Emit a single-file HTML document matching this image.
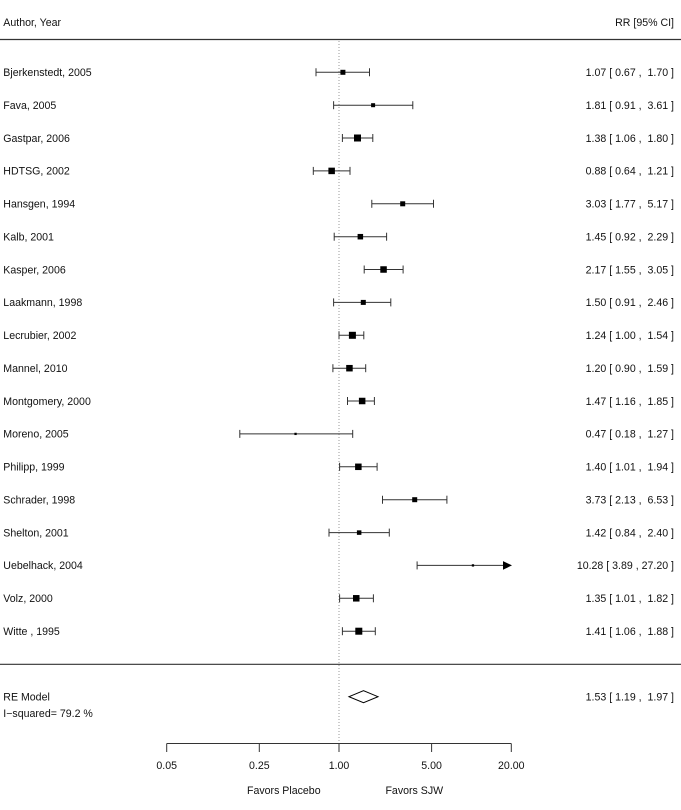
<!DOCTYPE html>
<html>
<head>
<meta charset="utf-8">
<style>
  html,body{margin:0;padding:0;background:#fff;}
  svg{display:block;}
  text{font-family:"Liberation Sans", Arial, Helvetica, sans-serif;font-size:10.6px;fill:#111;white-space:pre;}
</style>
</head>
<body>
<svg width="681" height="810" viewBox="0 0 681 810" xmlns="http://www.w3.org/2000/svg">
  <rect x="0" y="0" width="681" height="810" fill="#fff"/>

  <!-- header -->
  <text x="3.3" y="25.8">Author, Year</text>
  <text x="674" y="25.8" text-anchor="end">RR [95% CI]</text>
  <line x1="0" y1="39.5" x2="681" y2="39.5" stroke="#333" stroke-width="1.2"/>

  <!-- reference dotted line -->
  <line x1="339" y1="41" x2="339" y2="743" stroke="#999" stroke-width="1" stroke-dasharray="1,2"/>

  <!-- study rows -->
  <g stroke="#333" stroke-width="1" fill="#000">
    <!-- Bjerkenstedt 1.07 [0.67,1.70] y=72.3 -->
    <line x1="316.0" y1="72.3" x2="369.5" y2="72.3"/>
    <line x1="316.0" y1="68.3" x2="316.0" y2="76.3"/>
    <line x1="369.5" y1="68.3" x2="369.5" y2="76.3"/>
    <rect x="340.4" y="69.8" width="5" height="5" stroke="none"/>

    <!-- Fava 1.81 [0.91,3.61] y=105.2 -->
    <line x1="333.6" y1="105.2" x2="412.8" y2="105.2"/>
    <line x1="333.6" y1="101.2" x2="333.6" y2="109.2"/>
    <line x1="412.8" y1="101.2" x2="412.8" y2="109.2"/>
    <rect x="371.1" y="103.2" width="4" height="4" stroke="none"/>

    <!-- Gastpar 1.38 [1.06,1.80] y=138.0 -->
    <line x1="342.4" y1="138.0" x2="372.8" y2="138.0"/>
    <line x1="342.4" y1="134.0" x2="342.4" y2="142.0"/>
    <line x1="372.8" y1="134.0" x2="372.8" y2="142.0"/>
    <rect x="354.0" y="134.5" width="7" height="7" stroke="none"/>

    <!-- HDTSG 0.88 [0.64,1.21] y=170.9 -->
    <line x1="313.3" y1="170.9" x2="350.0" y2="170.9"/>
    <line x1="313.3" y1="166.9" x2="313.3" y2="174.9"/>
    <line x1="350.0" y1="166.9" x2="350.0" y2="174.9"/>
    <rect x="328.4" y="167.65" width="6.5" height="6.5" stroke="none"/>

    <!-- Hansgen 3.03 [1.77,5.17] y=203.8 -->
    <line x1="371.8" y1="203.8" x2="433.5" y2="203.8"/>
    <line x1="371.8" y1="199.8" x2="371.8" y2="207.8"/>
    <line x1="433.5" y1="199.8" x2="433.5" y2="207.8"/>
    <rect x="400.2" y="201.3" width="5" height="5" stroke="none"/>

    <!-- Kalb 1.45 [0.92,2.29] y=236.7 -->
    <line x1="334.2" y1="236.7" x2="386.6" y2="236.7"/>
    <line x1="334.2" y1="232.7" x2="334.2" y2="240.7"/>
    <line x1="386.6" y1="232.7" x2="386.6" y2="240.7"/>
    <rect x="357.6" y="233.95" width="5.5" height="5.5" stroke="none"/>

    <!-- Kasper 2.17 [1.55,3.05] y=269.5 -->
    <line x1="364.2" y1="269.5" x2="403.1" y2="269.5"/>
    <line x1="364.2" y1="265.5" x2="364.2" y2="273.5"/>
    <line x1="403.1" y1="265.5" x2="403.1" y2="273.5"/>
    <rect x="380.3" y="266.25" width="6.5" height="6.5" stroke="none"/>

    <!-- Laakmann 1.50 [0.91,2.46] y=302.4 -->
    <line x1="333.6" y1="302.4" x2="390.8" y2="302.4"/>
    <line x1="333.6" y1="298.4" x2="333.6" y2="306.4"/>
    <line x1="390.8" y1="298.4" x2="390.8" y2="306.4"/>
    <rect x="360.8" y="299.9" width="5" height="5" stroke="none"/>

    <!-- Lecrubier 1.24 [1.00,1.54] y=335.3 -->
    <line x1="339.0" y1="335.3" x2="363.8" y2="335.3"/>
    <line x1="339.0" y1="331.3" x2="339.0" y2="339.3"/>
    <line x1="363.8" y1="331.3" x2="363.8" y2="339.3"/>
    <rect x="348.9" y="331.8" width="7" height="7" stroke="none"/>

    <!-- Mannel 1.20 [0.90,1.59] y=368.2 -->
    <line x1="332.9" y1="368.2" x2="365.7" y2="368.2"/>
    <line x1="332.9" y1="364.2" x2="332.9" y2="372.2"/>
    <line x1="365.7" y1="364.2" x2="365.7" y2="372.2"/>
    <rect x="346.2" y="364.95" width="6.5" height="6.5" stroke="none"/>

    <!-- Montgomery 1.47 [1.16,1.85] y=401.0 -->
    <line x1="347.5" y1="401.0" x2="374.4" y2="401.0"/>
    <line x1="347.5" y1="397.0" x2="347.5" y2="405.0"/>
    <line x1="374.4" y1="397.0" x2="374.4" y2="405.0"/>
    <rect x="358.9" y="397.75" width="6.5" height="6.5" stroke="none"/>

    <!-- Moreno 0.47 [0.18,1.27] y=433.9 -->
    <line x1="239.8" y1="433.9" x2="352.7" y2="433.9"/>
    <line x1="239.8" y1="429.9" x2="239.8" y2="437.9"/>
    <line x1="352.7" y1="429.9" x2="352.7" y2="437.9"/>
    <rect x="294.4" y="432.75" width="2.3" height="2.3" stroke="none"/>

    <!-- Philipp 1.40 [1.01,1.94] y=466.8 -->
    <line x1="339.6" y1="466.8" x2="377.1" y2="466.8"/>
    <line x1="339.6" y1="462.8" x2="339.6" y2="470.8"/>
    <line x1="377.1" y1="462.8" x2="377.1" y2="470.8"/>
    <rect x="355.1" y="463.55" width="6.5" height="6.5" stroke="none"/>

    <!-- Schrader 3.73 [2.13,6.53] y=499.7 -->
    <line x1="382.5" y1="499.7" x2="446.9" y2="499.7"/>
    <line x1="382.5" y1="495.7" x2="382.5" y2="503.7"/>
    <line x1="446.9" y1="495.7" x2="446.9" y2="503.7"/>
    <rect x="412.2" y="497.2" width="5" height="5" stroke="none"/>

    <!-- Shelton 1.42 [0.84,2.40] y=532.6 -->
    <line x1="329.0" y1="532.6" x2="389.3" y2="532.6"/>
    <line x1="329.0" y1="528.6" x2="329.0" y2="536.6"/>
    <line x1="389.3" y1="528.6" x2="389.3" y2="536.6"/>
    <rect x="356.9" y="530.35" width="4.5" height="4.5" stroke="none"/>

    <!-- Uebelhack 10.28 [3.89,27.20] y=565.4 -->
    <line x1="417.1" y1="565.4" x2="504" y2="565.4"/>
    <line x1="417.1" y1="561.4" x2="417.1" y2="569.4"/>
    <rect x="471.8" y="564.25" width="2.3" height="2.3" stroke="none"/>
    <polygon points="503,561.1 512,565.4 503,569.7" stroke="none"/>

    <!-- Volz 1.35 [1.01,1.82] y=598.3 -->
    <line x1="339.6" y1="598.3" x2="373.4" y2="598.3"/>
    <line x1="339.6" y1="594.3" x2="339.6" y2="602.3"/>
    <line x1="373.4" y1="594.3" x2="373.4" y2="602.3"/>
    <rect x="353.0" y="595.05" width="6.5" height="6.5" stroke="none"/>

    <!-- Witte 1.41 [1.06,1.88] y=631.2 -->
    <line x1="342.4" y1="631.2" x2="375.3" y2="631.2"/>
    <line x1="342.4" y1="627.2" x2="342.4" y2="635.2"/>
    <line x1="375.3" y1="627.2" x2="375.3" y2="635.2"/>
    <rect x="355.3" y="627.7" width="7" height="7" stroke="none"/>
  </g>

  <!-- labels -->
  <g>
    <text x="3.3" y="76.1">Bjerkenstedt, 2005</text>
    <text x="3.3" y="109.0">Fava, 2005</text>
    <text x="3.3" y="141.8">Gastpar, 2006</text>
    <text x="3.3" y="174.7">HDTSG, 2002</text>
    <text x="3.3" y="207.6">Hansgen, 1994</text>
    <text x="3.3" y="240.5">Kalb, 2001</text>
    <text x="3.3" y="273.3">Kasper, 2006</text>
    <text x="3.3" y="306.2">Laakmann, 1998</text>
    <text x="3.3" y="339.1">Lecrubier, 2002</text>
    <text x="3.3" y="372.0">Mannel, 2010</text>
    <text x="3.3" y="404.8">Montgomery, 2000</text>
    <text x="3.3" y="437.7">Moreno, 2005</text>
    <text x="3.3" y="470.6">Philipp, 1999</text>
    <text x="3.3" y="503.5">Schrader, 1998</text>
    <text x="3.3" y="536.4">Shelton, 2001</text>
    <text x="3.3" y="569.2">Uebelhack, 2004</text>
    <text x="3.3" y="602.1">Volz, 2000</text>
    <text x="3.3" y="635.0">Witte , 1995</text>
  </g>
  <g text-anchor="end">
    <text x="674" y="76.1">1.07 [ 0.67 ,  1.70 ]</text>
    <text x="674" y="109.0">1.81 [ 0.91 ,  3.61 ]</text>
    <text x="674" y="141.8">1.38 [ 1.06 ,  1.80 ]</text>
    <text x="674" y="174.7">0.88 [ 0.64 ,  1.21 ]</text>
    <text x="674" y="207.6">3.03 [ 1.77 ,  5.17 ]</text>
    <text x="674" y="240.5">1.45 [ 0.92 ,  2.29 ]</text>
    <text x="674" y="273.3">2.17 [ 1.55 ,  3.05 ]</text>
    <text x="674" y="306.2">1.50 [ 0.91 ,  2.46 ]</text>
    <text x="674" y="339.1">1.24 [ 1.00 ,  1.54 ]</text>
    <text x="674" y="372.0">1.20 [ 0.90 ,  1.59 ]</text>
    <text x="674" y="404.8">1.47 [ 1.16 ,  1.85 ]</text>
    <text x="674" y="437.7">0.47 [ 0.18 ,  1.27 ]</text>
    <text x="674" y="470.6">1.40 [ 1.01 ,  1.94 ]</text>
    <text x="674" y="503.5">3.73 [ 2.13 ,  6.53 ]</text>
    <text x="674" y="536.4">1.42 [ 0.84 ,  2.40 ]</text>
    <text x="674" y="569.2">10.28 [ 3.89 , 27.20 ]</text>
    <text x="674" y="602.1">1.35 [ 1.01 ,  1.82 ]</text>
    <text x="674" y="635.0">1.41 [ 1.06 ,  1.88 ]</text>
  </g>

  <!-- summary separator -->
  <line x1="0" y1="664.3" x2="681" y2="664.3" stroke="#333" stroke-width="1.2"/>

  <!-- RE model -->
  <text x="3.3" y="700.5">RE Model</text>
  <text x="3.3" y="717.1">I−squared= 79.2 %</text>
  <polygon points="349,696.7 363.5,690.7 378,696.7 363.5,702.7" fill="#fff" stroke="#000" stroke-width="1"/>
  <text x="674" y="700.5" text-anchor="end">1.53 [ 1.19 ,  1.97 ]</text>

  <!-- x axis -->
  <g stroke="#333" stroke-width="1">
    <line x1="166.7" y1="743.5" x2="511.3" y2="743.5"/>
    <line x1="166.7" y1="743.5" x2="166.7" y2="752"/>
    <line x1="259.3" y1="743.5" x2="259.3" y2="752"/>
    <line x1="339" y1="743.5" x2="339" y2="752"/>
    <line x1="431.6" y1="743.5" x2="431.6" y2="752"/>
    <line x1="511.3" y1="743.5" x2="511.3" y2="752"/>
  </g>
  <g text-anchor="middle">
    <text x="166.7" y="768.8">0.05</text>
    <text x="259.3" y="768.8">0.25</text>
    <text x="339" y="768.8">1.00</text>
    <text x="431.6" y="768.8">5.00</text>
    <text x="511.3" y="768.8">20.00</text>
    <text x="283.8" y="793.8">Favors Placebo</text>
    <text x="414.3" y="793.8">Favors SJW</text>
  </g>
</svg>
</body>
</html>
